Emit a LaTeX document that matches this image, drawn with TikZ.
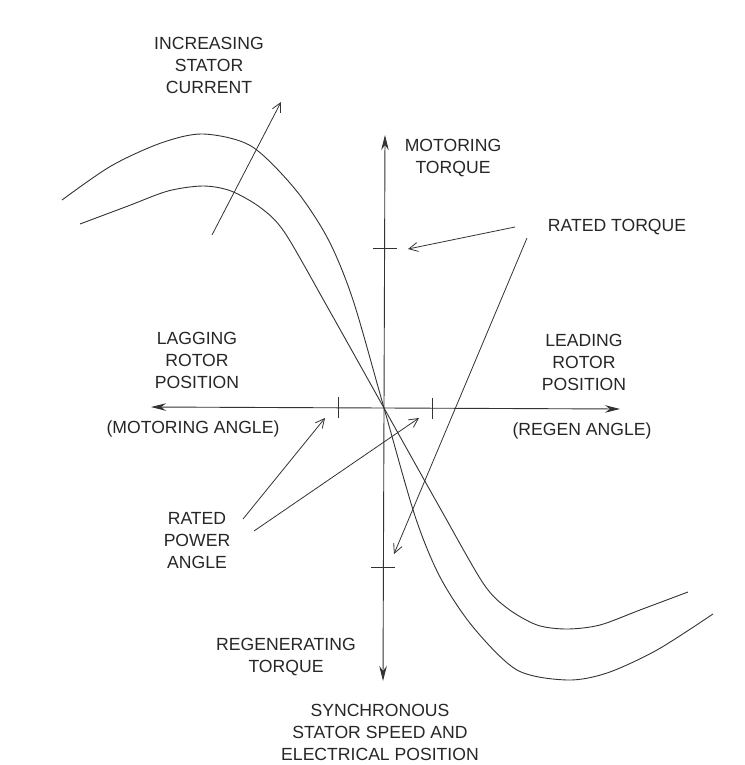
\documentclass[tikz,border=0pt]{standalone}
\usepackage{fontspec}
\setmainfont{Liberation Sans}
\usepackage{tikz}
\usetikzlibrary{positioning,arrows.meta}

\tikzset{
  lbl/.style={font=\fontsize{17.6}{22}\selectfont,align=center,inner sep=0pt,text=black!85},
  axis/.style={line width=0.9pt,draw=black!80,-{Stealth[length=15pt,width=7.5pt]}},
  ptr/.style={line width=0.8pt,draw=black!80,-{Straight Barb[length=9pt,width=9pt]}},
  tickmark/.style={line width=0.9pt,draw=black!80},
  crv/.style={line width=0.9pt,draw=black!80}
}

\begin{document}
\begin{tikzpicture}[x=1pt,y=-1pt]

\useasboundingbox (0,0) rectangle (744,765);

% axes
\coordinate (o) at (384,408);
\coordinate (ytop) at (385,135);
\coordinate (ybot) at (383,681);
\coordinate (xleft) at (151,407);
\coordinate (xright) at (620,409);

\draw[axis] (o) -- (ytop);
\draw[axis] (o) -- (ybot);
\draw[axis] (o) -- (xleft);
\draw[axis] (o) -- (xright);

% ticks
\coordinate (tqup) at (385,248);
\coordinate (tqdn) at (383,567);
\coordinate (pal) at (338,407);
\coordinate (par) at (432,408);

\draw[tickmark] ([xshift=-12pt]tqup) -- ([xshift=12pt]tqup);
\draw[tickmark] ([xshift=-12pt]tqdn) -- ([xshift=12pt]tqdn);
\draw[tickmark] ([yshift=-11pt]pal) -- ([yshift=10pt]pal);
\draw[tickmark] ([yshift=-11pt]par) -- ([yshift=10pt]par);

% curves
\draw[crv] plot[smooth] coordinates {(62,200) (111,166) (161,143) (203,134) (251,146) (295,189) (328,239) (353,300) (384,408) (415,516) (440,577) (473,627) (517,670) (567,680) (607,673) (657,650) (713,614)};
\draw[crv] plot[smooth] coordinates {(80,224) (128,206) (168,191) (203,186) (231,191) (261,208) (285,233) (328,308) (384,408) (440,508) (483,583) (507,608) (537,625) (567,629) (600,625) (640,610) (688,592)};

% labels
\node[lbl] (cur) at (209,65) {INCREASING\\STATOR\\CURRENT};
\node[lbl] (mot) at (453,158) {MOTORING\\TORQUE};
\node[lbl] (rt) at (617,227) {RATED TORQUE};
\node[lbl] (lead) at (584,362) {LEADING\\ROTOR\\POSITION};
\node[lbl] (regen) at (582,431) {(REGEN ANGLE)};
\node[lbl] (lag) at (197,360) {LAGGING\\ROTOR\\POSITION};
\node[lbl] (mang) at (193,429) {(MOTORING ANGLE)};
\node[lbl] (rpa) at (197,541) {RATED\\POWER\\ANGLE};
\node[lbl] (regt) at (286,657) {REGENERATING\\TORQUE};
\node[lbl] (sync) at (380,732) {SYNCHRONOUS\\STATOR SPEED AND\\ELECTRICAL POSITION};

% pointers
\coordinate (cur0) at (212,235);
\coordinate (cur1) at (281,102);
\coordinate (rt0) at (515,227);
\coordinate (rt1) at (408,249);
\coordinate (rt2) at (527,238);
\coordinate (rt3) at (394,554);
\coordinate (rpa0) at (243,519);
\coordinate (rpa1) at (325,418);
\coordinate (rpa2) at (254,531);
\coordinate (rpa3) at (419,418);

\draw[ptr] (cur0) -- (cur1);
\draw[ptr] (rt0) -- (rt1);
\draw[ptr] (rt2) -- (rt3);
\draw[ptr] (rpa0) -- (rpa1);
\draw[ptr] (rpa2) -- (rpa3);

\end{tikzpicture}
\end{document}
